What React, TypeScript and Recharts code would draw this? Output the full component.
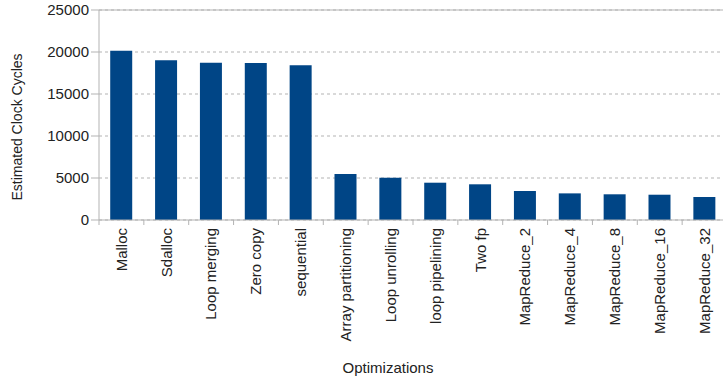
import React from 'react';
import { BarChart, Bar, XAxis, YAxis, CartesianGrid, Label, ReferenceLine } from 'recharts';

const categories = [
  'Malloc', 'Sdalloc', 'Loop merging', 'Zero copy', 'sequential', 'Array partitioning',
  'Loop unrolling', 'loop pipelining', 'Two fp', 'MapReduce_2', 'MapReduce_4',
  'MapReduce_8', 'MapReduce_16', 'MapReduce_32',
];
const cycles = [20150, 19010, 18730, 18690, 18410, 5480, 5040, 4440, 4250, 3450, 3170, 3060, 3010, 2740];
const yTicks = [0, 5000, 10000, 15000, 20000, 25000];

const data = categories.map((name, i) => ({ name, cycles: cycles[i] }));

const FONT = '"Liberation Sans", Arial, sans-serif';
const AXIS = '#b3b3b3';

const XTick = (props: any) => {
  const { x, y, payload, index, visibleTicksCount } = props;
  const half = payload && typeof payload.offset === 'number' ? payload.offset : 22.4;
  const ay = y - 8;
  return (
    <g>
      <line x1={x - half} y1={ay} x2={x - half} y2={ay + 5} stroke={AXIS} />
      {index === visibleTicksCount - 1 ? (
        <line x1={x + half} y1={ay} x2={x + half} y2={ay + 5} stroke={AXIS} />
      ) : null}
      <text
        x={x}
        y={y}
        transform={`rotate(-90 ${x} ${y})`}
        textAnchor="end"
        dy="0.35em"
        fontSize={15}
        fontFamily={FONT}
        fill="#222"
      >
        {payload.value}
      </text>
    </g>
  );
};

const YTitle = (props: any) => {
  const vb = props.viewBox || { x: 0, y: 10, width: 99, height: 210 };
  const cx = vb.x + 17;
  const cy = vb.y + vb.height / 2 + 12;
  return (
    <text
      x={cx}
      y={cy}
      transform={`rotate(-90 ${cx} ${cy})`}
      textAnchor="middle"
      dy="0.35em"
      fontSize={14}
      fontFamily={FONT}
      fill="#222"
    >
      Estimated Clock Cycles
    </text>
  );
};

const XTitle = (props: any) => {
  const vb = props.viewBox || { x: 99, y: 220, width: 627, height: 163 };
  const cx = vb.x + vb.width / 2 - 25;
  const cy = vb.y + 148;
  return (
    <text x={cx} y={cy} textAnchor="middle" dy="0.35em" fontSize={15} fontFamily={FONT} fill="#222">
      Optimizations
    </text>
  );
};

export default function App() {
  return (
    <div style={{ position: 'absolute', left: 0, top: 0, width: 723, height: 383, overflow: 'hidden', background: '#fff' }}>
      <BarChart
        width={727}
        height={383}
        data={data}
        margin={{ top: 10, right: 0, bottom: 0, left: 0 }}
        barCategoryGap="25%"
      >
        <CartesianGrid vertical={false} stroke={AXIS} strokeDasharray="3 3" />
        <ReferenceLine y={25000} stroke={AXIS} strokeWidth={1} />
        <XAxis
          dataKey="name"
          height={163}
          interval={0}
          tickLine={false}
          tickSize={5}
          tickMargin={3}
          axisLine={{ stroke: AXIS }}
          tick={<XTick />}
        >
          <Label content={<XTitle />} />
        </XAxis>
        <YAxis
          width={99}
          domain={[0, 25000]}
          ticks={yTicks}
          interval={0}
          tickSize={8}
          tickMargin={2}
          axisLine={{ stroke: AXIS }}
          tickLine={{ stroke: AXIS }}
          tick={{ fontSize: 15, fontFamily: FONT, fill: '#222' }}
        >
          <Label content={<YTitle />} />
        </YAxis>
        <Bar dataKey="cycles" fill="#004586" isAnimationActive={false} />
      </BarChart>
    </div>
  );
}
